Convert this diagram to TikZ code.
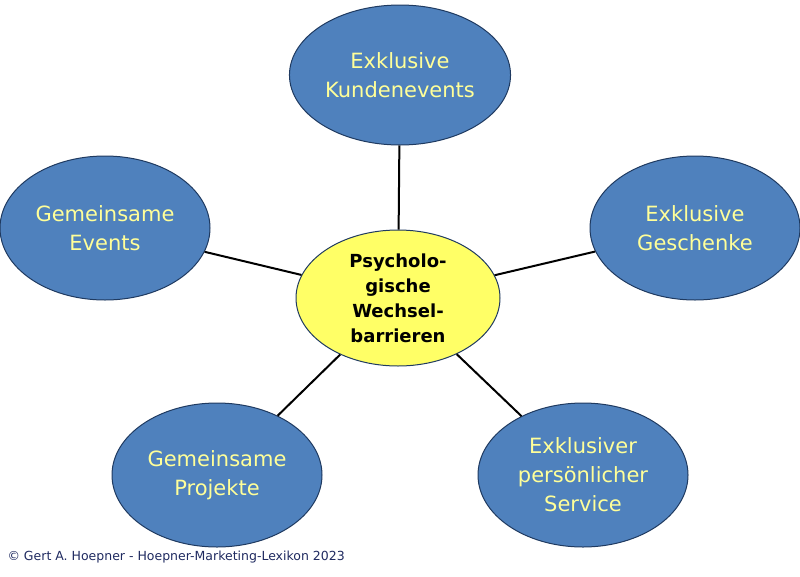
\documentclass[tikz,border=0pt]{standalone}
\usepackage{fontspec}
\setmainfont{DejaVu Sans}
\usetikzlibrary{shapes.geometric}
\definecolor{bubble}{HTML}{4F81BD}
\definecolor{rim}{HTML}{1F3A60}
\definecolor{txt}{HTML}{FFFF99}
\definecolor{core}{HTML}{FFFF66}
\definecolor{note}{HTML}{1F2A60}
\tikzset{
  outer/.style={ellipse, draw=rim, line width=1pt, fill=bubble, text=txt,
    minimum width=210pt, minimum height=144pt, align=center,
    font=\fontsize{21}{29}\selectfont},
  inner/.style={ellipse, draw=rim, line width=1pt, fill=core, text=black,
    minimum width=204pt, minimum height=136pt, align=center,
    font=\fontsize{18}{25}\selectfont\bfseries},
  spoke/.style={line width=2pt, black}
}
\begin{document}
\begin{tikzpicture}[x=1pt,y=-1pt]
\useasboundingbox (0,0) rectangle (800,576);
% centre and satellites
\node[inner] (hub) at (398,298) {Psycholo-\\gische\\Wechsel-\\barrieren};
\node[outer, minimum height=140pt] (kev) at (400,75) {Exklusive\\Kundenevents};
\node[outer] (gev) at (105,228) {Gemeinsame\\Events};
\node[outer] (ges) at (695,228) {Exklusive\\Geschenke};
\node[outer] (pro) at (217,475) {Gemeinsame\\Projekte};
\node[outer] (ser) at (583,475) {Exklusiver\\persönlicher\\Service};
% spokes
\foreach \s in {kev,gev,ges,pro,ser}
  \draw[spoke] (hub) -- (\s);
\node[anchor=west, text=note, font=\fontsize{12.5}{15}\selectfont] (copy) at (4,557)
  {© Gert A. Hoepner - Hoepner-Marketing-Lexikon 2023};
\end{tikzpicture}
\end{document}
